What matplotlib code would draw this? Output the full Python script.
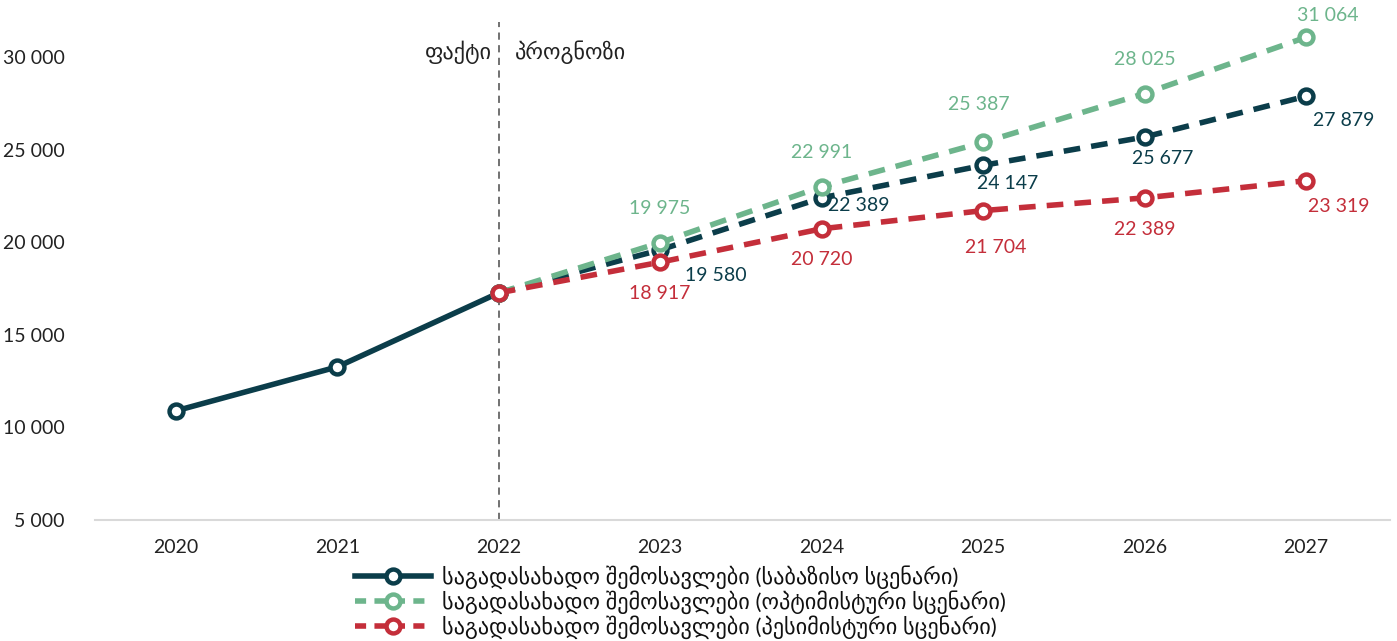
import matplotlib
matplotlib.use("Agg")
import matplotlib.pyplot as plt
from matplotlib.ticker import FuncFormatter
from matplotlib.lines import Line2D

plt.rcParams["font.family"] = ["Lato", "DejaVu Sans"]

# ── Data ──
years = [2020, 2021, 2022, 2023, 2024, 2025, 2026, 2027]
actual = [10886, 13261, 17257]
base = [17257, 19580, 22389, 24147, 25677, 27879]
optimistic = [17257, 19975, 22991, 25387, 28025, 31064]
pessimistic = [17257, 18917, 20720, 21704, 22389, 23319]

label_base = "საგადასახადო შემოსავლები (საბაზისო სცენარი)"
label_opt = "საგადასახადო შემოსავლები (ოპტიმისტური სცენარი)"
label_pes = "საგადასახადო შემოსავლები (პესიმისტური სცენარი)"
txt_fact = "ფაქტი"
txt_fore = "პროგნოზი"

c_base = "#0B3D4A"
c_opt = "#6DB58C"
c_pes = "#C42E3A"

x_act = list(range(len(actual)))
x_fc = list(range(len(actual) - 1, len(years)))

fig = plt.figure(figsize=(13.97, 6.41), dpi=100)
ax = fig.add_axes([0.068, 0.189, 0.927, 0.777])

mk = dict(marker="o", markersize=10, markerfacecolor="white", markeredgewidth=3.2)

ax.plot(x_act, actual, "-", color=c_base, lw=4, zorder=3, **mk)
ax.plot(x_fc, base, "--", color=c_base, lw=4, dashes=(3, 2), zorder=3, **mk)
ax.plot(x_fc, optimistic, "--", color=c_opt, lw=4, dashes=(3, 2), zorder=3, **mk)
ax.plot(x_fc, pessimistic, "--", color=c_pes, lw=4, dashes=(3, 2), zorder=4, **mk)

fmt = lambda v: f"{v:,.0f}".replace(",", " ")

# label offsets in pixels (dx, dy up) for 2023..2027
off_opt = [(0, 34), (0, 34), (-4, 38), (0, 34), (22, 22)]
off_base = [(56, -26), (37, -8), (25, -18), (18, -21), (38, -24)]
off_pes = [(0, -31), (0, -31), (13, -37), (0, -32), (33, -26)]

def put_labels(vals, offs, color):
    for xi, v, (dx, dy) in zip(x_fc[1:], vals[1:], offs):
        ax.annotate(fmt(v), (xi, v), xytext=(dx * 0.72, dy * 0.72),
                    textcoords="offset points", ha="center", va="center",
                    color=color, fontsize=14, annotation_clip=False)

put_labels(optimistic, off_opt, c_opt)
put_labels(base, off_base, c_base)
put_labels(pessimistic, off_pes, c_pes)

# fact / forecast divider
ax.axvline(2, color="#666666", lw=1.3, ls=(0, (4, 3)), zorder=1)
ax.text(1.96, 30250, txt_fact, ha="right", va="center", fontsize=16, color="#222222")
ax.text(2.1, 30250, txt_fore, ha="left", va="center", fontsize=16, color="#222222")

ax.set_xlim(-0.5, 7.52)
ax.set_ylim(5000, 31900)
ax.set_xticks(range(len(years)))
ax.set_xticklabels([str(y) for y in years], fontsize=14, color="#222222")
ax.set_yticks([5000, 10000, 15000, 20000, 25000, 30000])
ax.yaxis.set_major_formatter(FuncFormatter(lambda v, p: fmt(v)))
ax.tick_params(axis="y", labelsize=14, colors="#222222", length=0, pad=22)
ax.tick_params(axis="x", length=0, pad=14)

for s in ("top", "right", "left"):
    ax.spines[s].set_visible(False)
ax.spines["bottom"].set_color("#d9d9d9")
ax.spines["bottom"].set_linewidth(1.5)

handles = [
    Line2D([], [], color=c_base, lw=4, **mk),
    Line2D([], [], color=c_opt, lw=4, ls="--", dashes=(2, 1.5), **mk),
    Line2D([], [], color=c_pes, lw=4, ls="--", dashes=(2, 1.5), **mk),
]
fig.legend(handles, [label_base, label_opt, label_pes], loc="lower center",
           bbox_to_anchor=(0.487, -0.028), frameon=False, fontsize=16,
           handlelength=3.4, labelspacing=0.05, handletextpad=0.5,
           labelcolor="#111111")

fig.savefig("out.png", dpi=100)
